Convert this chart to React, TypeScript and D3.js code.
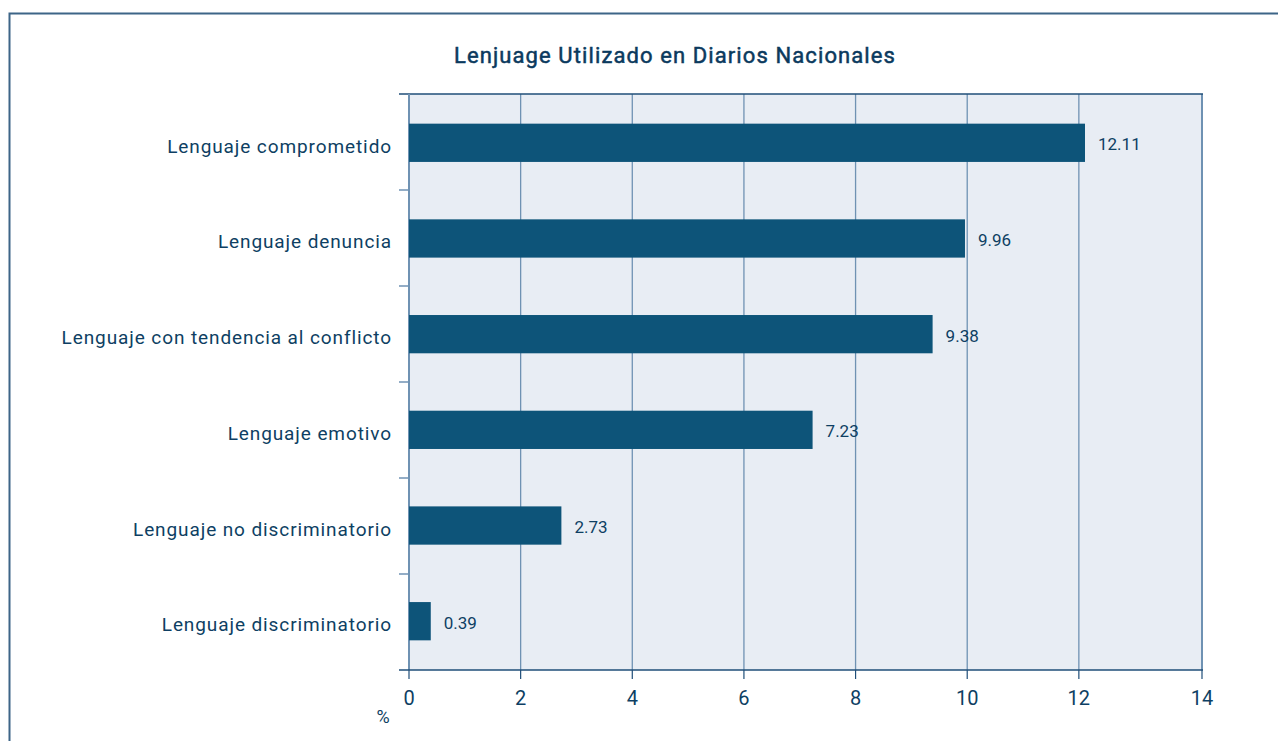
import React from "react";
import * as d3 from "d3";

const categories = [
  "Lenguaje comprometido",
  "Lenguaje denuncia",
  "Lenguaje con tendencia al conflicto",
  "Lenguaje emotivo",
  "Lenguaje no discriminatorio",
  "Lenguaje discriminatorio",
];
const values = [12.11, 9.96, 9.38, 7.23, 2.73, 0.39];
const valueLabels = ["12.11", "9.96", "9.38", "7.23", "2.73", "0.39"];
const xTicks = [0, 2, 4, 6, 8, 10, 12, 14];
const title = "Lenjuage Utilizado en Diarios Nacionales";
const unitLabel = "%";

const W = 1278;
const H = 741;
const M = { left: 409, right: 1202, top: 94, bottom: 670 };
const FONT = "Roboto, 'DejaVu Sans', sans-serif";
const TEXT = "#0e3f63";
const BAR = "#0d5479";
const BG = "#e8edf4";
const GRID = "#6f92b3";
const AXIS = "#1f4e79";

export default function App() {
  // scale: 0 at the left axis, ~55.8 px per unit; the last tick sits on the frame edge
  const x = d3.scaleLinear().domain([0, 14]).range([M.left, 1190.5]);
  const tickX = (t: number) => (t === xTicks[xTicks.length - 1] ? M.right : x(t));
  const y = d3
    .scaleBand<string>()
    .domain(categories)
    .range([M.top, M.bottom])
    .paddingInner(0.6)
    .paddingOuter(0.31);
  const bandEdges = d3
    .range(categories.length + 1)
    .map((i) => M.top + ((M.bottom - M.top) / categories.length) * i);

  return (
    <svg
      width={W}
      height={H}
      style={{ position: "absolute", left: 0, top: 0, display: "block" }}
    >
      <rect x={0} y={0} width={W} height={H} fill="#ffffff" />
      {/* outer frame */}
      <path d={`M9.5,${H} V13.5 H${W}`} fill="none" stroke="#3d6587" strokeWidth={2} />
      {/* plot background */}
      <rect x={M.left} y={M.top} width={M.right - M.left} height={M.bottom - M.top} fill={BG} />
      {/* grid */}
      {xTicks.slice(1, -1).map((t) => (
        <line key={t} x1={x(t)} x2={x(t)} y1={M.top} y2={M.bottom} stroke={GRID} strokeWidth={1.3} />
      ))}
      {/* right border */}
      <line x1={M.right} x2={M.right} y1={M.top} y2={M.bottom} stroke={GRID} strokeWidth={2} />
      {/* top border */}
      <line x1={M.left - 10} x2={M.right + 1} y1={M.top} y2={M.top} stroke={AXIS} strokeWidth={1.5} />
      {/* y axis */}
      <line x1={M.left} x2={M.left} y1={M.top} y2={M.bottom} stroke={GRID} strokeWidth={2} />
      {bandEdges.slice(1, -1).map((b, i) => (
        <line key={i} x1={M.left - 10} x2={M.left} y1={b} y2={b} stroke={GRID} strokeWidth={1.5} />
      ))}
      {/* bars */}
      {categories.map((c, i) => (
        <rect
          key={c}
          x={x(0)}
          y={y(c)!}
          width={x(values[i]) - x(0)}
          height={y.bandwidth()}
          fill={BAR}
        />
      ))}
      {/* value labels */}
      {categories.map((c, i) => (
        <text
          key={c}
          x={x(values[i]) + 13}
          y={y(c)! + y.bandwidth() / 2 + 7.5}
          fontFamily={FONT}
          fontSize={17}
          fill={TEXT}
        >
          {valueLabels[i]}
        </text>
      ))}
      {/* category labels */}
      {categories.map((c) => (
        <text
          key={c}
          x={392}
          y={y(c)! + y.bandwidth() / 2 + 10}
          textAnchor="end"
          fontFamily={FONT}
          fontSize={19}
          letterSpacing={0.9}
          fill={TEXT}
        >
          {c}
        </text>
      ))}
      {/* x axis */}
      <line x1={M.left - 10} x2={M.right + 1} y1={M.bottom} y2={M.bottom} stroke={AXIS} strokeWidth={1.5} />
      {xTicks.map((t) => (
        <g key={t}>
          <line x1={tickX(t)} x2={tickX(t)} y1={M.bottom} y2={M.bottom + 9} stroke={AXIS} strokeWidth={1.2} />
          <text
            x={tickX(t)}
            y={M.bottom + 35}
            textAnchor="middle"
            fontFamily={FONT}
            fontSize={20}
            fill={TEXT}
          >
            {t}
          </text>
        </g>
      ))}
      <text x={383} y={723} textAnchor="middle" fontFamily={FONT} fontSize={18} fill={TEXT}>
        {unitLabel}
      </text>
      {/* title */}
      <text
        x={675}
        y={63}
        textAnchor="middle"
        fontFamily={FONT}
        fontSize={22}
        fontWeight={400}
        letterSpacing={1.1}
        fill="#0b3a5e"
        stroke="#0b3a5e"
        strokeWidth={0.5}
      >
        {title}
      </text>
    </svg>
  );
}
